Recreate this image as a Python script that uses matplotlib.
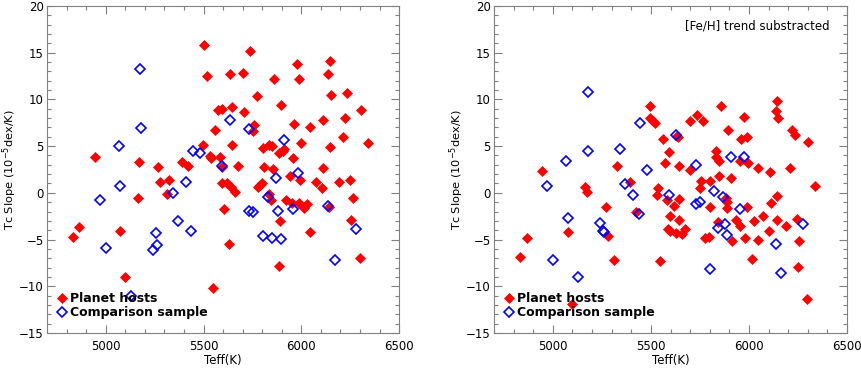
import matplotlib
matplotlib.use("Agg")
from matplotlib import pyplot as plt
from matplotlib.ticker import MultipleLocator

# left panel: planet hosts (Teff, Tc slope)
hosts_teff = [4833, 4864, 4947, 5075, 5097, 5164, 5172, 5268, 5280, 5311,
              5326, 5391, 5423, 5495, 5503, 5519, 5531, 5538, 5548, 5561,
              5575, 5597, 5584, 5594, 5597, 5604, 5618, 5628, 5637, 5647,
              5647, 5642, 5659, 5674, 5700, 5705, 5737, 5754, 5759, 5773,
              5776, 5790, 5799, 5805, 5807, 5833, 5836, 5843, 5848, 5855,
              5860, 5887, 5898, 5889, 5887, 5904, 5913, 5920, 5942, 5954,
              5959, 5962, 5978, 5986, 5990, 5993, 5997, 6014, 6027, 6046,
              6046, 6075, 6104, 6109, 6111, 6138, 6143, 6145, 6148, 6154,
              6193, 6213, 6225, 6235, 6249, 6253, 6263, 6301, 6304, 6341]
hosts_slope = [-4.73, -3.65, 3.86, -4.03, -9.01, -0.56, 3.33, 2.73, 1.19, -0.14,
               1.37, 3.30, 2.84, 5.15, 15.85, 12.48, 3.93, 3.68, -10.20, 6.73,
               8.91, 9.01, 3.86, 2.81, 1.09, -1.72, 1.09, -5.50, 12.66, 9.15,
               5.12, 0.60, 0.04, 2.84, 12.83, 8.66, 15.18, 6.59, 7.26, 10.38,
               0.67, 0.88, 1.02, 4.80, 2.77, 5.12, -0.14, -0.77, 5.05, 2.59,
               12.17, 4.24, 9.43, -2.98, -7.85, 4.49, 4.70, -0.77, 1.75, -1.12,
               3.75, 7.36, 13.78, -1.05, 12.17, 1.40, 5.36, -1.61, -1.19, 7.01,
               -4.24, 1.19, 0.49, 7.82, 2.66, 12.66, -1.51, 4.87, 14.13, 10.45,
               1.19, 5.96, 7.96, 10.66, 1.37, -2.95, -0.60, -6.94, 8.87, 5.36]

# left panel: comparison sample
comp_teff = [4969, 5000, 5068, 5075, 5128, 5177, 5181, 5241, 5261, 5259,
             5346, 5370, 5411, 5435, 5445, 5481, 5594, 5635, 5732, 5732,
             5754, 5805, 5828, 5848, 5870, 5879, 5894, 5911, 5959, 5981,
             6138, 6170, 6280]
comp_slope = [-0.74, -5.86, 5.05, 0.74, -11.04, 13.25, 6.98, -6.07, -5.58, -4.31,
              0.00, -3.05, 1.19, -4.10, 4.49, 4.28, 2.84, 7.78, 6.80, -1.96,
              -2.10, -4.63, -0.46, -4.84, 1.58, -1.96, -4.91, 5.61, -1.72, 2.07,
              -1.40, -7.19, -3.89]

# right panel: [Fe/H] trend subtracted
hosts_teff_r = [4833, 4866, 4947, 5075, 5099, 5162, 5173, 5269, 5281, 5310,
                5325, 5392, 5422, 5497, 5494, 5511, 5521, 5535, 5530, 5545,
                5559, 5574, 5584, 5594, 5599, 5588, 5599, 5617, 5626, 5631,
                5638, 5643, 5643, 5644, 5658, 5673, 5699, 5700, 5736, 5750,
                5757, 5768, 5774, 5796, 5801, 5802, 5830, 5831, 5842, 5845,
                5848, 5857, 5881, 5886, 5886, 5892, 5906, 5915, 5935, 5955,
                5955, 5960, 5972, 5982, 5988, 5994, 5991, 6013, 6023, 6044,
                6044, 6073, 6102, 6107, 6110, 6136, 6141, 6141, 6142, 6149,
                6188, 6207, 6219, 6233, 6244, 6250, 6256, 6297, 6301, 6338]
hosts_slope_r = [-6.87, -4.87, 2.31, -4.17, -11.89, 0.67, 0.07, -1.51, -4.63, -7.22,
                 2.84, 1.16, -2.10, 9.26, 7.96, 7.68, 7.50, 0.49, -0.21, -7.26,
                 5.72, 3.16, -0.81, 4.42, -2.49, -3.82, -4.07, -1.40, -4.28, 6.07,
                 5.96, -0.70, -2.95, 2.84, -4.42, -3.82, 7.64, 2.45, 8.38, 0.49,
                 1.30, 7.68, -4.80, -4.70, 1.23, -1.47, 4.52, 3.79, -3.09, 1.75,
                 3.40, 9.33, -0.56, -1.61, -0.95, 6.70, 1.61, -5.19, -2.95, -3.54,
                 3.37, 5.72, 8.10, -4.87, 5.96, 3.19, -1.54, -7.08, -3.02, -5.05,
                 2.70, -2.52, -4.10, 2.21, -1.05, 8.80, -0.32, -2.88, 9.78, 7.96,
                 -3.58, 2.63, 6.70, 6.17, -2.81, -7.92, -5.12, -11.33, 5.40, 0.74]

comp_teff_r = [4969, 5000, 5068, 5075, 5126, 5177, 5180, 5241, 5257, 5261,
               5343, 5366, 5410, 5437, 5444, 5478, 5592, 5629, 5729, 5729,
               5751, 5802, 5823, 5840, 5865, 5876, 5889, 5910, 5954, 5977,
               6137, 6163, 6273]
comp_slope_r = [0.77, -7.22, 3.40, -2.66, -8.98, 10.80, 4.45, -3.26, -4.07, -4.20,
                4.70, 0.98, -0.21, -2.24, 7.43, 2.49, -0.18, 6.17, 2.95, -1.16,
                -1.02, -8.10, 0.18, -3.75, -0.46, -3.33, -4.56, 3.86, -1.72, 3.86,
                -5.47, -8.59, -3.30]

plt.rcParams['font.size'] = 8.5
frame = '#808080'

fig = plt.figure(figsize=(8.61, 3.68), dpi=100)
ax1 = fig.add_axes([0.0546, 0.095, 0.409, 0.889])
ax2 = fig.add_axes([0.5738, 0.095, 0.41, 0.889])

panels = [(ax1, hosts_teff, hosts_slope, comp_teff, comp_slope),
          (ax2, hosts_teff_r, hosts_slope_r, comp_teff_r, comp_slope_r)]

for ax, ht, hs, ct, cs in panels:
    ax.plot(ht, hs, 'D', color='red', markersize=5.2, markeredgewidth=0.5,
            linestyle='none', label='Planet hosts', zorder=3)
    ax.plot(ct, cs, 'D', markerfacecolor='none', markeredgecolor='blue',
            markersize=4.6, markeredgewidth=1.2, linestyle='none',
            label='Comparison sample', zorder=4)
    ax.set_xlim(4700, 6500)
    ax.set_ylim(-15, 20)
    ax.xaxis.set_major_locator(MultipleLocator(500))
    ax.xaxis.set_minor_locator(MultipleLocator(100))
    ax.yaxis.set_major_locator(MultipleLocator(5))
    ax.yaxis.set_minor_locator(MultipleLocator(1))
    ax.tick_params(which='both', direction='in', top=True, right=True,
                   color=frame, width=0.8)
    ax.tick_params(which='major', length=6)
    ax.tick_params(which='minor', length=3)
    ax.tick_params(axis='y', pad=2.5)
    ax.tick_params(axis='x', pad=5)
    for sp in ax.spines.values():
        sp.set_color(frame)
        sp.set_linewidth(0.8)
    ax.set_xlabel('Teff(K)', labelpad=1)
    ax.set_ylabel('Tc Slope (10$^{-5}$dex/K)', fontsize=8.2, va='center')
    ax.yaxis.set_label_coords(-0.105, 0.5)
    leg = ax.legend(loc='lower left', bbox_to_anchor=(0.025, 0.035),
                    frameon=False, handlelength=0.6, handletextpad=0.3,
                    labelspacing=0.05, borderpad=0.2, borderaxespad=0,
                    prop={'weight': 'bold', 'size': 9})

ax2.text(0.95, 0.94, '[Fe/H] trend substracted', transform=ax2.transAxes,
         ha='right', va='center', fontsize=8.5)

plt.savefig('out.png', dpi=100)
